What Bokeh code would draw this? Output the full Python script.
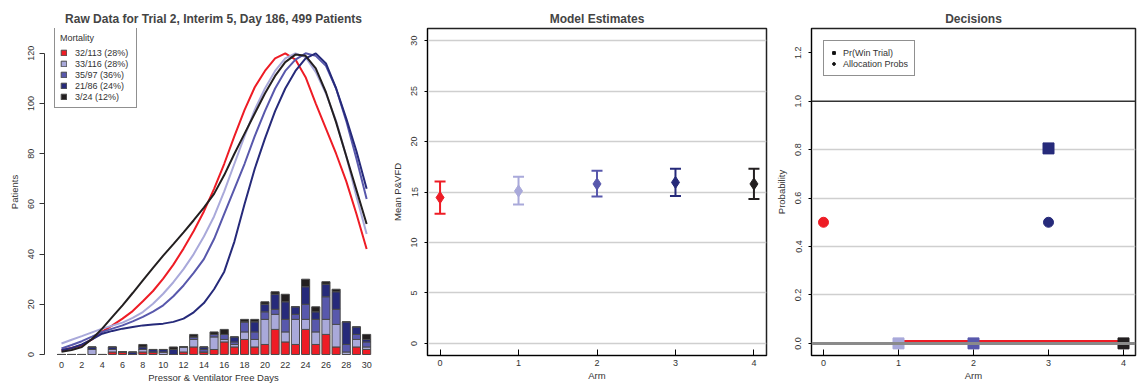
import numpy as np
from bokeh.plotting import figure
from bokeh.layouts import row
from bokeh.models import ColumnDataSource, Legend, LegendItem, FixedTicker, Range1d, Span
from bokeh.embed import file_html
from bokeh.resources import INLINE

FONT = "Liberation Sans"

# ---------------- data ----------------
days = list(range(31))
arm_colors = ["#EE1C25", "#A9A9DA", "#5858AC", "#262A7A", "#231F20"]
mortality_labels = ["32/113 (28%)", "33/116 (28%)", "35/97 (36%)", "21/86 (24%)", "3/24 (12%)"]

# patients per day (stacked), per arm
arm0_counts = [0, 0, 0, 0, 0, 1, 1, 0, 1, 1, 0, 0, 1, 3, 1, 2, 5, 3, 6, 3, 4, 10, 5, 4, 10, 4, 8, 3, 0, 3, 2]
arm1_counts = [0, 0, 0, 2, 0, 1, 0, 0, 1, 0, 1, 0, 2, 3, 0, 5, 1, 1, 3, 3, 10, 6, 4, 10, 4, 5, 6, 9, 1, 3, 1]
arm2_counts = [0, 0, 0, 0, 0, 0, 0, 0, 0, 0, 0, 0, 0, 1, 1, 1, 2, 1, 4, 3, 3, 2, 5, 2, 6, 5, 9, 6, 3, 2, 2]
arm3_counts = [0, 0, 0, 1, 0, 1, 0, 1, 1, 1, 1, 2, 0, 0, 1, 0, 0, 2, 0, 4, 3, 6, 7, 3, 7, 3, 5, 7, 9, 3, 1]
arm4_counts = [0, 0, 0, 0, 0, 0, 0, 0, 1, 0, 0, 1, 0, 1, 0, 1, 2, 0, 1, 1, 1, 1, 3, 0, 3, 2, 1, 1, 0, 0, 2]

# fitted curves (scaled to peak 120)
arm0_curve = [1.7, 2.6, 3.7, 6.0, 9.1, 11.6, 14.3, 17.3, 21.2, 25.3, 30.2, 35.8, 42.2, 49.2, 57.0, 66.0,
              76.0, 87.0, 97.5, 106.5, 113.0, 118.0, 120.0, 117.5, 110.5, 100.0, 90.0, 80.0, 69.0, 56.0, 42.0]
arm1_curve = [4.4, 5.9, 7.3, 8.8, 10.3, 11.5, 12.7, 14.6, 16.9, 20.2, 24.2, 28.8, 34.0, 40.0, 47.0, 55.0,
              65.0, 76.0, 87.0, 97.5, 106.0, 113.0, 118.0, 120.0, 118.5, 112.5, 104.0, 93.0, 79.0, 63.0, 48.0]
arm2_curve = [2.4, 3.8, 5.3, 7.1, 9.0, 10.3, 11.6, 13.2, 15.0, 17.1, 19.6, 23.2, 27.5, 32.5, 38.0, 46.0,
              56.0, 66.0, 76.0, 87.0, 97.0, 106.0, 113.0, 117.5, 120.0, 119.0, 115.0, 106.0, 93.0, 78.0, 62.0]
arm3_curve = [1.7, 2.6, 4.0, 6.0, 8.3, 9.4, 10.3, 11.0, 11.6, 12.0, 12.3, 13.0, 14.3, 16.8, 20.5, 26.0,
              33.0, 45.0, 60.0, 74.0, 86.0, 97.0, 106.0, 113.0, 118.0, 120.0, 116.0, 106.0, 94.0, 81.0, 66.0]
arm4_curve = [1.1, 1.8, 3.0, 6.2, 10.3, 15.0, 19.6, 24.5, 29.5, 34.5, 39.4, 44.0, 48.7, 53.5, 58.5, 64.0,
              71.5, 80.0, 88.0, 96.0, 104.0, 111.0, 116.5, 119.5, 119.0, 114.0, 104.5, 92.5, 79.0, 65.5, 52.0]

# model estimates
arms = [0, 1, 2, 3, 4]
est_mean = [14.45, 15.1, 15.8, 15.95, 15.8]
est_lower = [12.85, 13.75, 14.55, 14.6, 14.3]
est_upper = [16.05, 16.5, 17.1, 17.3, 17.3]

# decisions
win_arms = [1, 2, 3, 4]
pr_win = [0.0, 0.0, 0.805, 0.0]
win_colors = arm_colors[1:]
alloc_arms = [0, 3]
alloc_probs = [0.5, 0.5]
alloc_colors = [arm_colors[0], arm_colors[3]]
ref_line_x = [1, 4]
ref_line_y = [0.01, 0.01]

H = 388
BT = 28
BB = 33


def style_axes(p):
    for ax in (p.xaxis[0], p.yaxis[0]):
        ax.major_label_text_font = FONT
        ax.major_label_text_font_size = "9px"
        ax.major_label_text_color = "#333333"
        ax.axis_label_text_font = FONT
        ax.axis_label_text_font_size = "9.5px"
        ax.axis_label_text_font_style = "normal"
        ax.axis_label_text_color = "#333333"
        ax.minor_tick_line_color = None
    p.xaxis.major_label_standoff = 4
    p.xaxis.axis_label_standoff = 1
    p.yaxis.major_label_standoff = 7
    p.yaxis.axis_label_standoff = 6
    p.yaxis.major_label_orientation = "vertical"
    p.title.text_font = FONT
    p.title.text_font_size = "12px"
    p.title.text_font_style = "bold"
    p.title.align = "center"
    p.title.standoff = 5


# ---------------- panel 1 ----------------
p1 = figure(width=388, height=H, x_range=Range1d(-1.67, 31.56), y_range=Range1d(-0.4, 129.9),
            output_backend="svg", toolbar_location=None, title="Raw Data for Trial 2, Interim 5, Day 186, 499 Patients",
            min_border_left=44, min_border_right=6, min_border_top=BT, min_border_bottom=BB)
p1.outline_line_color = None
p1.grid.grid_line_color = None
style_axes(p1)
p1.xaxis.ticker = FixedTicker(ticks=list(range(0, 31, 2)))
p1.xaxis.axis_line_color = None
p1.xaxis.major_tick_line_color = None
p1.xaxis.major_tick_out = 0
p1.xaxis.major_tick_in = 0
p1.xaxis.major_label_standoff = 6
p1.xaxis.axis_label = "Pressor & Ventilator Free Days"
p1.yaxis.ticker = FixedTicker(ticks=list(range(0, 121, 20)))
p1.yaxis.bounds = (0, 120)
p1.yaxis.major_tick_out = 5
p1.yaxis.major_tick_in = 0
p1.yaxis.major_label_standoff = 5
p1.yaxis.axis_label = "Patients"
p1.yaxis.axis_line_color = "#333333"
p1.yaxis.major_tick_line_color = "#333333"

src = ColumnDataSource(dict(day=days, a0=arm0_counts, a1=arm1_counts, a2=arm2_counts, a3=arm3_counts, a4=arm4_counts))
bars = p1.vbar_stack(["a0", "a1", "a2", "a3", "a4"], x="day", width=0.8, fill_color=arm_colors,
                     line_color="#4a4a4a", line_width=1, source=src)
for curve, col in zip([arm0_curve, arm1_curve, arm2_curve, arm3_curve, arm4_curve], arm_colors):
    p1.line(days, curve, line_color=col, line_width=2)

frame_h = H - BT - BB
leg1 = Legend(items=[LegendItem(label=lab, renderers=[r]) for lab, r in zip(mortality_labels, bars)],
              location=(10, frame_h - 80), title="Mortality")
leg1.title_text_font = FONT
leg1.title_text_font_size = "9px"
leg1.title_text_font_style = "normal"
leg1.title_text_color = "#333333"
leg1.title_standoff = 4
leg1.label_text_font = FONT
leg1.label_text_font_size = "9px"
leg1.label_text_color = "#333333"
leg1.label_height = 11
leg1.label_width = 56
leg1.glyph_height = 7
leg1.glyph_width = 7
leg1.spacing = 0
leg1.padding = 5
leg1.margin = 0
leg1.label_standoff = 8
leg1.border_line_color = "#222222"
leg1.border_line_width = 1
p1.add_layout(leg1, "center")

# ---------------- panel 2 ----------------
p2 = figure(width=382, height=H, x_range=Range1d(-0.16, 4.16), y_range=Range1d(-1.2, 31.2),
            output_backend="svg", toolbar_location=None, title="Model Estimates",
            min_border_left=39, min_border_right=4, min_border_top=BT, min_border_bottom=BB)
p2.outline_line_color = "#222222"
p2.outline_line_width = 1.5
p2.xgrid.grid_line_color = None
p2.ygrid.ticker = FixedTicker(ticks=list(range(0, 31, 5)))
p2.ygrid.grid_line_color = "#CFCFCF"
p2.ygrid.grid_line_width = 1.5
style_axes(p2)
p2.xaxis.ticker = FixedTicker(ticks=arms)
p2.yaxis.ticker = FixedTicker(ticks=list(range(0, 31, 5)))
p2.xaxis.axis_label = "Arm"
p2.yaxis.axis_label = "Mean P&VFD"
p2.xaxis.major_tick_in = 6
p2.xaxis.major_tick_out = 0
p2.yaxis.major_tick_out = 3
p2.yaxis.major_tick_in = 0

est_src = ColumnDataSource(dict(arm=arms, mean=est_mean, lo=est_lower, hi=est_upper, color=arm_colors))
p2.segment(x0="arm", y0="lo", x1="arm", y1="hi", line_color="color", line_width=2, source=est_src)
p2.scatter(x="arm", y="lo", marker="dash", size=11, line_color="color", line_width=2, source=est_src)
p2.scatter(x="arm", y="hi", marker="dash", size=11, line_color="color", line_width=2, source=est_src)
p2.scatter(x="arm", y="mean", marker="diamond", size=12, fill_color="color", line_color="color", source=est_src)

# ---------------- panel 3 ----------------
p3 = figure(width=368, height=H, x_range=Range1d(-0.16, 4.16), y_range=Range1d(-0.05, 1.30),
            output_backend="svg", toolbar_location=None, title="Decisions",
            min_border_left=41, min_border_right=3, min_border_top=BT, min_border_bottom=BB)
p3.outline_line_color = "#222222"
p3.outline_line_width = 1.5
p3.xgrid.grid_line_color = None
p3.ygrid.ticker = FixedTicker(ticks=[0.2, 0.4, 0.6, 0.8])
p3.ygrid.grid_line_color = "#CFCFCF"
p3.ygrid.grid_line_width = 1.5
style_axes(p3)
p3.xaxis.ticker = FixedTicker(ticks=arms)
p3.yaxis.ticker = FixedTicker(ticks=[0.0, 0.2, 0.4, 0.6, 0.8, 1.0, 1.2])
p3.yaxis.major_label_overrides = {0.0: "0.0", 0.2: "0.2", 0.4: "0.4", 0.6: "0.6", 0.8: "0.8", 1.0: "1.0", 1.2: "1.2"}
p3.xaxis.axis_label = "Arm"
p3.yaxis.axis_label = "Probability"
p3.xaxis.major_tick_in = 6
p3.xaxis.major_tick_out = 0
p3.yaxis.major_tick_out = 3
p3.yaxis.major_tick_in = 0

p3.add_layout(Span(location=1.0, dimension="width", line_color="#333333", line_width=1.5))
p3.add_layout(Span(location=0.0, dimension="width", line_color="#8a8a8a", line_width=3))
p3.line(ref_line_x, ref_line_y, line_color="#EE1C25", line_width=2)

win_src = ColumnDataSource(dict(arm=win_arms, p=pr_win, color=win_colors))
p3.scatter(x="arm", y="p", marker="square", size=11, fill_color="color", line_color="color", source=win_src)
alloc_src = ColumnDataSource(dict(arm=alloc_arms, p=alloc_probs, color=alloc_colors))
p3.scatter(x="arm", y="p", marker="circle", size=10, fill_color="color", line_color="color", source=alloc_src)

# legend-only renderers (no visible points)
leg_sq = p3.scatter(x=np.array([np.nan]), y=np.array([np.nan]), marker="square", size=7, color="#111111")
leg_ci = p3.scatter(x=np.array([np.nan]), y=np.array([np.nan]), marker="circle", size=5, color="#111111")
leg3 = Legend(items=[LegendItem(label="Pr(Win Trial)", renderers=[leg_sq]),
                     LegendItem(label="Allocation Probs", renderers=[leg_ci])],
              location="top_left")
leg3.label_text_font = FONT
leg3.label_text_font_size = "9px"
leg3.label_text_color = "#333333"
leg3.label_height = 11
leg3.glyph_height = 7
leg3.glyph_width = 7
leg3.spacing = 0
leg3.padding = 6
leg3.margin = 12
leg3.label_standoff = 6
leg3.border_line_color = "#222222"
leg3.border_line_width = 1
p3.add_layout(leg3, "center")

layout = row(p1, p2, p3)
open("out.html", "w").write(file_html(layout, INLINE))
